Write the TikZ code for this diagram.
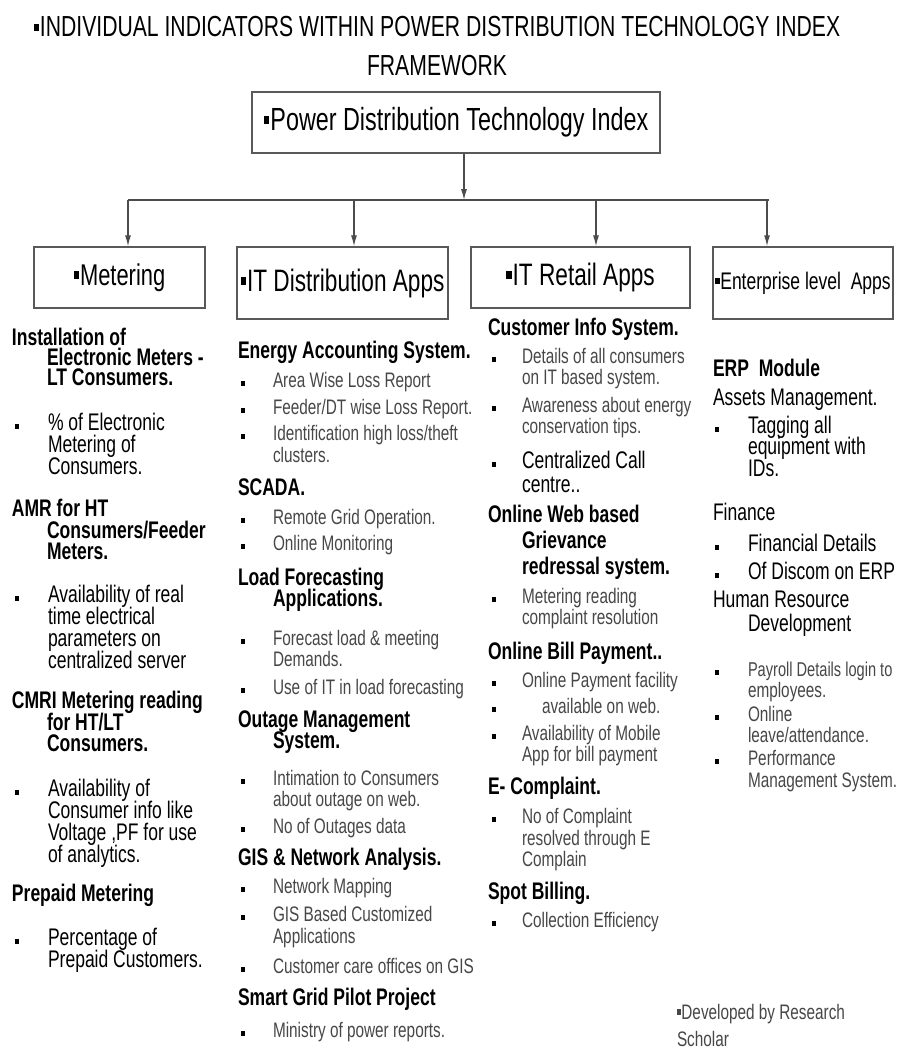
\documentclass[tikz,border=0pt]{standalone}
\usepackage{fontspec}
\setmainfont[FakeStretch=0.73]{Liberation Sans}
\usetikzlibrary{arrows.meta}
\newcounter{ln}
\newcommand\sqb{\rule[0.2em]{0.18em}{0.26em}\hspace{0.03em}}
\newcommand\Tx[4]{\stepcounter{ln}\node[#3] (t\number\value{ln}) at (#1,#2) {#4};}
\newcommand\Bu[2]{\stepcounter{ln}\node[bul] (b\number\value{ln}) at (#1,#2-3.5) {};}
\begin{document}
\begin{tikzpicture}[x=1pt,y=-1pt,
  txt/.style={anchor=base west, inner sep=0pt, outer sep=0pt},
  H/.style={txt, font=\fontsize{24}{24}\selectfont\bfseries},
  R/.style={txt, font=\fontsize{24}{24}\selectfont},
  S/.style={txt, font=\fontsize{21}{22}\selectfont, text=black!72},
  ttl/.style={anchor=base, inner sep=0pt, font=\fontsize{29}{29}\selectfont},
  bul/.style={fill=black, minimum width=4.5pt, minimum height=5.5pt, inner sep=0pt},
  box/.style={draw=black!65, line width=1.5pt, inner sep=0pt, align=center},
  conn/.style={draw=black!70, line width=1.2pt},
  arr/.style={conn, -{Latex[length=11pt,width=6pt]}},
]
\fill[white] (0,0) rectangle (901,1049);
\useasboundingbox (0,0) rectangle (901,1049);

% title
\node[ttl] (title1) at (437,37) {\sqb INDIVIDUAL INDICATORS WITHIN POWER DISTRIBUTION TECHNOLOGY INDEX};
\node[ttl] (title2) at (437,75) {FRAMEWORK};

% boxes
\node[box, minimum width=408pt, minimum height=61pt, font=\fontsize{32}{32}\selectfont] (pdti) at (456,122.5) {\sqb Power Distribution Technology Index};
\node[box, minimum width=171pt, minimum height=61pt, font=\fontsize{30}{30}\selectfont] (met) at (119.5,277.5) {\sqb Metering};
\node[box, minimum width=211pt, minimum height=72pt, font=\fontsize{31}{31}\selectfont] (itd) at (342.5,283) {\sqb IT Distribution Apps};
\node[box, minimum width=219pt, minimum height=61pt, font=\fontsize{31}{31}\selectfont] (itr) at (580.5,277.5) {\sqb IT Retail Apps};
\node[box, minimum width=180pt, minimum height=72pt, font=\fontsize{24}{24}\selectfont] (ent) at (803,283) {\sqb Enterprise level\ \ Apps};

% connectors
\coordinate (hub) at (464,200);
\coordinate (hl) at (128,200);
\coordinate (hr) at (769,200);
\coordinate (d1) at (128,200);
\coordinate (d2) at (354,200);
\coordinate (d3) at (596,200);
\coordinate (d4) at (767,200);
\draw[arr] (pdti.south -| hub) -- (hub);
\draw[conn, line width=2pt] (hl) -- (hr);
\draw[arr] (d1) -- (d1 |- met.north);
\draw[arr] (d2) -- (d2 |- itd.north);
\draw[arr] (d3) -- (d3 |- itr.north);
\draw[arr] (d4) -- (d4 |- ent.north);

% column 1 : Metering
\Tx{12}{345}{H}{Installation of}
\Tx{47}{365}{H}{Electronic Meters -}
\Tx{47}{385}{H}{LT Consumers.}
\Bu{17}{430}\Tx{48}{430}{R}{\% of Electronic}
\Tx{48}{452}{R}{Metering of}
\Tx{48}{474}{R}{Consumers.}
\Tx{12}{516}{H}{AMR for HT}
\Tx{47}{538}{H}{Consumers/Feeder}
\Tx{47}{559}{H}{Meters.}
\Bu{17}{602}\Tx{48}{602}{R}{Availability of real}
\Tx{48}{624}{R}{time electrical}
\Tx{48}{646}{R}{parameters on}
\Tx{48}{668}{R}{centralized server}
\Tx{12}{708}{H}{CMRI Metering reading}
\Tx{47}{730}{H}{for HT/LT}
\Tx{47}{751}{H}{Consumers.}
\Bu{17}{796}\Tx{48}{796}{R}{Availability of}
\Tx{48}{818}{R}{Consumer info like}
\Tx{48}{840}{R}{Voltage ,PF for use}
\Tx{48}{862}{R}{of analytics.}
\Tx{12}{901}{H}{Prepaid Metering}
\Bu{17}{945}\Tx{48}{945}{R}{Percentage of}
\Tx{48}{967}{R}{Prepaid Customers.}

% column 2 : IT Distribution Apps
\Tx{238}{358}{H}{Energy Accounting System.}
\Bu{243}{387}\Tx{273}{387}{S}{Area Wise Loss Report}
\Bu{243}{414}\Tx{273}{414}{S}{Feeder/DT wise Loss Report.}
\Bu{243}{440}\Tx{273}{440}{S}{Identification high loss/theft}
\Tx{273}{462}{S}{clusters.}
\Tx{238}{495}{H}{SCADA.}
\Bu{243}{524}\Tx{273}{524}{S}{Remote Grid Operation.}
\Bu{243}{550}\Tx{273}{550}{S}{Online Monitoring}
\Tx{238}{585}{H}{Load Forecasting}
\Tx{273}{606}{H}{Applications.}
\Bu{243}{645}\Tx{273}{645}{S}{Forecast load \& meeting}
\Tx{273}{666}{S}{Demands.}
\Bu{243}{694}\Tx{273}{694}{S}{Use of IT in load forecasting}
\Tx{238}{727}{H}{Outage Management}
\Tx{273}{748}{H}{System.}
\Bu{243}{785}\Tx{273}{785}{S}{Intimation to Consumers}
\Tx{273}{806}{S}{about outage on web.}
\Bu{243}{833}\Tx{273}{833}{S}{No of Outages data}
\Tx{238}{865}{H}{GIS \& Network Analysis.}
\Bu{243}{893}\Tx{273}{893}{S}{Network Mapping}
\Bu{243}{921}\Tx{273}{921}{S}{GIS Based Customized}
\Tx{273}{943}{S}{Applications}
\Bu{243}{973}\Tx{273}{973}{S}{Customer care offices on GIS}
\Tx{238}{1005}{H}{Smart Grid Pilot Project}
\Bu{243}{1037}\Tx{273}{1037}{S}{Ministry of power reports.}

% column 3 : IT Retail Apps
\Tx{488}{335}{H}{Customer Info System.}
\Bu{494}{363}\Tx{522}{363}{S}{Details of all consumers}
\Tx{522}{384}{S}{on IT based system.}
\Bu{494}{412}\Tx{522}{412}{S}{Awareness about energy}
\Tx{522}{433}{S}{conservation tips.}
\Bu{494}{468}\Tx{522}{468}{R}{Centralized Call}
\Tx{522}{492}{R}{centre..}
\Tx{488}{522}{H}{Online Web based}
\Tx{522}{548}{H}{Grievance}
\Tx{522}{574}{H}{redressal system.}
\Bu{494}{603}\Tx{522}{603}{S}{Metering reading}
\Tx{522}{624}{S}{complaint resolution}
\Tx{488}{659}{H}{Online Bill Payment..}
\Bu{494}{687}\Tx{522}{687}{S}{Online Payment facility}
\Bu{494}{713}\Tx{542}{713}{S}{available on web.}
\Bu{494}{740}\Tx{522}{740}{S}{Availability of Mobile}
\Tx{522}{761}{S}{App for bill payment}
\Tx{488}{794}{H}{E- Complaint.}
\Bu{494}{823}\Tx{522}{823}{S}{No of Complaint}
\Tx{522}{845}{S}{resolved through E}
\Tx{522}{866}{S}{Complain}
\Tx{488}{899}{H}{Spot Billing.}
\Bu{494}{927}\Tx{522}{927}{S}{Collection Efficiency}

% column 4 : Enterprise level Apps
\Tx{713}{376}{H}{ERP\ \ Module}
\Tx{713}{405}{R}{Assets Management.}
\Bu{717}{433}\Tx{748}{433}{R}{Tagging all}
\Tx{748}{454}{R}{equipment with}
\Tx{748}{476}{R}{IDs.}
\Tx{713}{520}{R}{Finance}
\Bu{717}{551}\Tx{748}{551}{R}{Financial Details}
\Bu{717}{579}\Tx{748}{579}{R}{Of Discom on ERP}
\Tx{713}{607}{R}{Human Resource}
\Tx{748}{631}{R}{Development}
\Bu{717}{676}\Tx{748}{676}{S, font=\fontsize{20}{20}\selectfont}{Payroll Details login to}
\Tx{748}{697}{S}{employees.}
\Bu{717}{721}\Tx{748}{721}{S}{Online}
\Tx{748}{742}{S}{leave/attendance.}
\Bu{717}{765}\Tx{748}{765}{S}{Performance}
\Tx{748}{787}{S}{Management System.}

% footnote
\Tx{677}{1019}{S}{\sqb Developed by Research}
\Tx{677}{1046}{S}{Scholar}
\end{tikzpicture}
\end{document}
